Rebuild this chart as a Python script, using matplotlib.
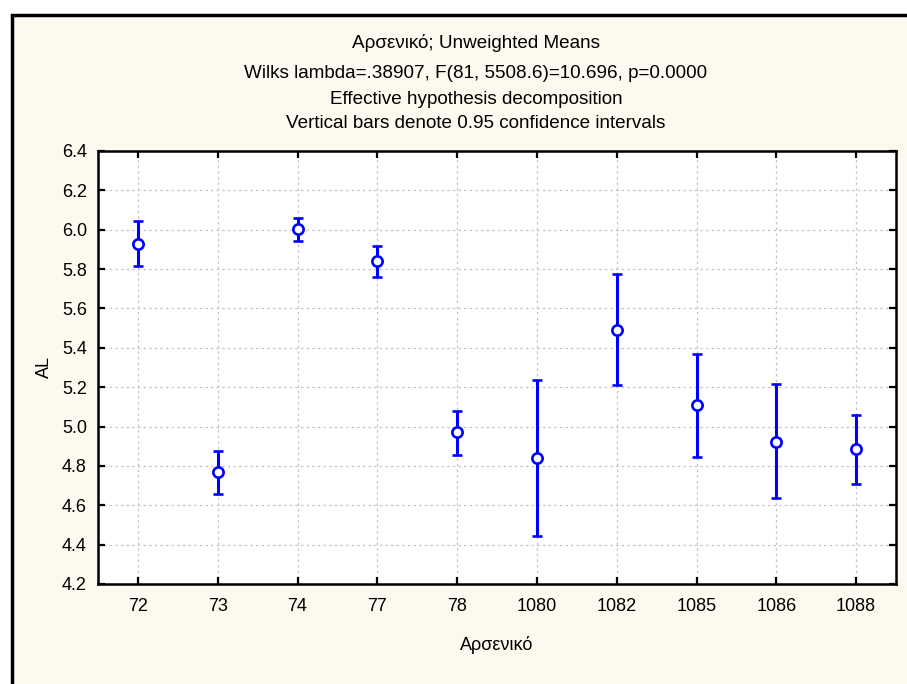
"""Arsenic group means of AL with 0.95 confidence intervals (STATISTICA style)."""

import matplotlib
matplotlib.use("Agg")
import matplotlib.pyplot as plt
from matplotlib.patches import Rectangle

# data
groups = ["72", "73", "74", "77", "78", "1080", "1082", "1085", "1086", "1088"]
means = [5.93, 4.77, 6.005, 5.84, 4.97, 4.84, 5.493, 5.112, 4.92, 4.885]
ci_low = [5.814, 4.657, 5.945, 5.762, 4.855, 4.445, 5.213, 4.845, 4.635, 4.71]
ci_high = [6.043, 4.877, 6.062, 5.918, 5.078, 5.235, 5.773, 5.367, 5.215, 5.057]
yticks = [4.2, 4.4, 4.6, 4.8, 5.0, 5.2, 5.4, 5.6, 5.8, 6.0, 6.2, 6.4]

title_lines = [
    "Αρσενικό; Unweighted Means",
    "Wilks lambda=.38907, F(81, 5508.6)=10.696, p=0.0000",
    "Effective hypothesis decomposition",
    "Vertical bars denote 0.95 confidence intervals",
]
title_y = [43, 73, 99, 123]  # line centres, px from top

BG = "#fdf9ee"
BLUE = "#0000ff"

plt.rcParams["font.family"] = ["Liberation Sans", "DejaVu Sans"]
plt.rcParams["font.size"] = 12

W, H = 907, 684
fig = plt.figure(figsize=(W / 100, H / 100), dpi=100, facecolor="white")

# cream panel with a heavy black frame (only left/top visible in the crop)
fig.patches.append(Rectangle((11.5 / W, -0.05), 1.1, 1 - 14.5 / H + 0.05,
                             transform=fig.transFigure, facecolor=BG,
                             edgecolor="black", linewidth=2.5, zorder=-5))

ax = fig.add_axes([98 / W, 1 - 584 / H, (896 - 98) / W, (584 - 151) / H])
ax.set_facecolor("white")

x = list(range(len(groups)))
err_lo = [m - lo for m, lo in zip(means, ci_low)]
err_hi = [hi - m for m, hi in zip(means, ci_high)]
ax.errorbar(x, means, yerr=[err_lo, err_hi], fmt="o", color=BLUE,
            ecolor=BLUE, elinewidth=2.2, capsize=3.5, capthick=2.2,
            markersize=7.4, markerfacecolor="white", markeredgecolor=BLUE,
            markeredgewidth=1.9, zorder=3)

ax.set_xlim(-0.5, len(groups) - 0.5)
ax.set_ylim(4.2, 6.4)
ax.set_xticks(x)
ax.set_xticklabels(groups)
ax.set_yticks(yticks)
ax.set_yticklabels([f"{v:.1f}" for v in yticks])

ax.grid(True, color="#c4c4c4", linestyle=(0, (2, 2.5)), linewidth=0.9)
ax.set_axisbelow(True)
for s in ax.spines.values():
    s.set_linewidth(1.8)
ax.tick_params(direction="in", length=5, width=1.6, top=True, right=True,
               labelsize=13, pad=8)
ax.tick_params(axis="x", pad=10)

ax.set_xlabel("Αρσενικό", fontsize=13, labelpad=15)
ax.set_ylabel("AL", fontsize=13, labelpad=6)

for yy, line in zip(title_y, title_lines):
    fig.text(476 / W, 1 - yy / H, line, ha="center", va="center",
             fontsize=13.6)

fig.savefig("out.png", dpi=100, facecolor=fig.get_facecolor())
